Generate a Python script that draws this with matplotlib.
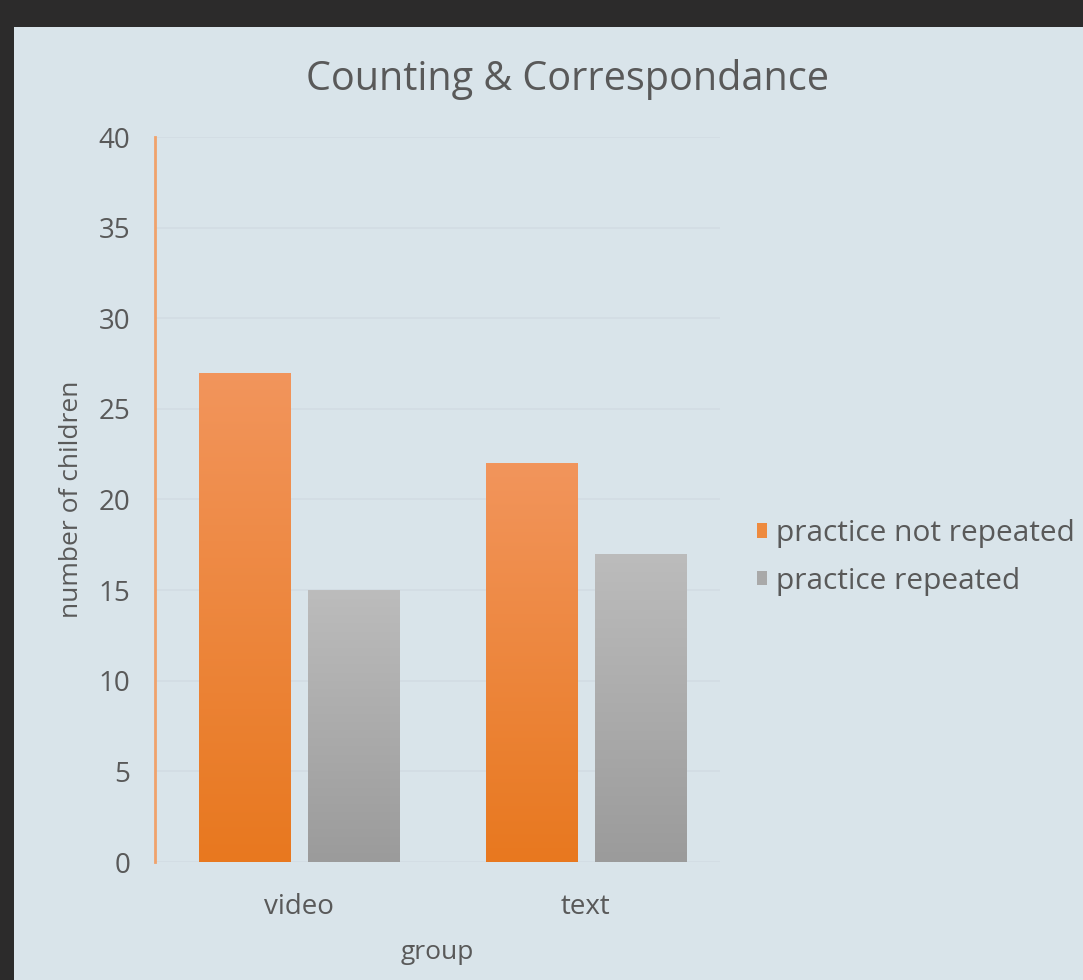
import numpy as np
import matplotlib
matplotlib.use('Agg')
import matplotlib.pyplot as plt
from matplotlib.patches import Rectangle

# data
groups = ['video', 'text']
series_names = ['practice not repeated', 'practice repeated']
not_repeated = [27, 22]
repeated = [15, 17]
yticks = [0, 5, 10, 15, 20, 25, 30, 35, 40]

plt.rcParams['font.family'] = ['Open Sans', 'DejaVu Sans']
txt = '#595959'
panel = '#d9e4ea'

fig = plt.figure(figsize=(10.83, 9.8), dpi=100)
fig.patch.set_facecolor('#2c2b2b')
fig.patches.append(Rectangle((14 / 1083, 0), 1, 1 - 27 / 980, transform=fig.transFigure,
                             facecolor=panel, edgecolor='none', zorder=-10))

ax = fig.add_axes([155 / 1083, 1 - 862 / 980, 565 / 1083, 725 / 980])
ax.set_facecolor('none')

x = np.arange(len(groups))
w = 0.32
off = 0.19
b1 = ax.bar(x - off, not_repeated, w, color='#ee8a3e', label=series_names[0], zorder=2)
b2 = ax.bar(x + off, repeated, w, color='#a9a9a9', label=series_names[1], zorder=2)

# vertical gradients clipped to each bar
def shade(bars, top, bottom):
    grad = np.linspace(0, 1, 256).reshape(-1, 1)
    cmap = matplotlib.colors.LinearSegmentedColormap.from_list('g', [top, bottom])
    for bar in bars:
        bx, bw, bh = bar.get_x(), bar.get_width(), bar.get_height()
        im = ax.imshow(grad, cmap=cmap, aspect='auto', extent=[bx, bx + bw, 0, bh],
                       origin='upper', zorder=3)
        im.set_clip_path(bar)

shade(b1, '#f2955c', '#e8781f')
shade(b2, '#bcbcbc', '#9b9b9b')

ax.set_xlim(-0.502, 1.467)
ax.set_ylim(0, 40)
ax.set_yticks(yticks)
ax.set_xticks(x)
ax.set_xticklabels(groups)
ax.tick_params(length=0, labelsize=20, labelcolor=txt)
ax.tick_params(axis='y', pad=18)
ax.tick_params(axis='x', pad=22)
ax.grid(axis='y', color='#d2dce3', linewidth=1.2, zorder=1)
ax.set_axisbelow(True)
for s in ['top', 'right', 'bottom']:
    ax.spines[s].set_visible(False)
ax.spines['left'].set_color('#f0a26c')
ax.spines['left'].set_linewidth(2)

ax.set_ylabel('number of children', fontsize=19, color=txt, labelpad=10)
ax.set_xlabel('group', fontsize=19, color=txt, labelpad=14)
fig.text(568 / 1083, 1 - 79 / 980, 'Counting & Correspondance', ha='center', va='center',
         fontsize=28.5, color=txt)

leg = ax.legend(loc='center left', bbox_to_anchor=(1.065, 0.42), frameon=False,
                fontsize=21.5, labelcolor=txt, handlelength=0.35, handleheight=0.35,
                handletextpad=0.3, labelspacing=0.62, borderpad=0, borderaxespad=0)

fig.savefig('out.png', dpi=100, facecolor=fig.get_facecolor())
